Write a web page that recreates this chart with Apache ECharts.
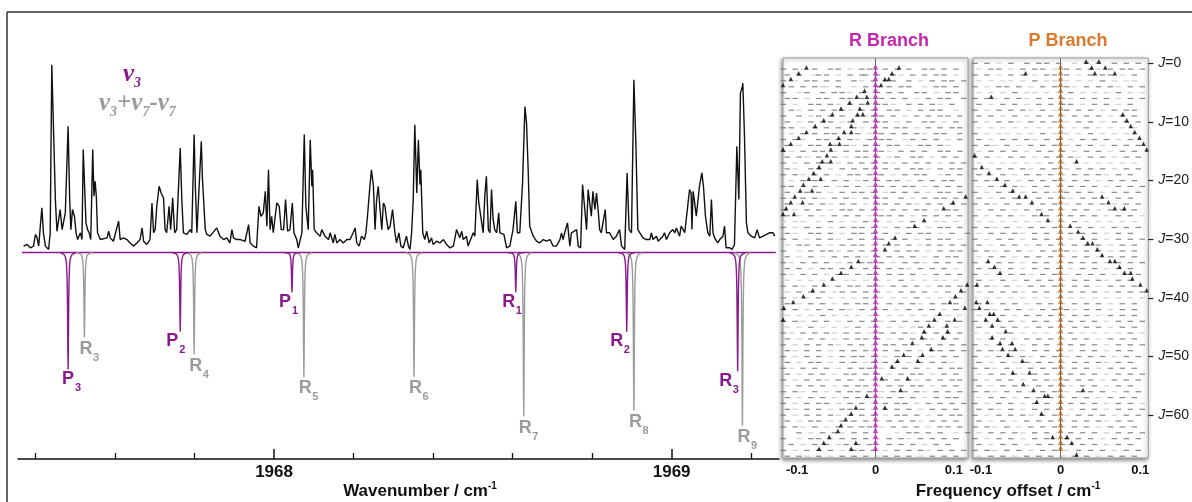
<!DOCTYPE html>
<html>
<head>
<meta charset="utf-8">
<title>ν3 band and Loomis–Wood diagrams</title>
<script src="https://cdn.jsdelivr.net/npm/echarts@6/dist/echarts.min.js"></script>
<style>
html, body { margin: 0; padding: 0; background: #fff; }
#chart { width: 1192px; height: 502px; }
</style>
</head>
<body>
<div id="chart"></div>
<script>
// ---------------- Data ----------------
// Observed spectrum: [wavenumber / cm-1, absorbance in % of the strongest line]
const observedSpectrum = [
[1967.370,3.4],[1967.379,4.3],[1967.387,2.5],[1967.395,3.4],[1967.400,9.6],[1967.404,7.8],[1967.408,3.4],[1967.412,2.5],[1967.416,23.8],[1967.420,10.5],[1967.425,3.4],[1967.433,1.6],[1967.437,10.5],[1967.441,100],[1967.446,99.1],[1967.450,28.2],[1967.454,11.3],[1967.458,12.2],[1967.462,22.9],[1967.467,12.2],[1967.471,12.2],[1967.475,21.1],[1967.482,67.2],[1967.486,28.2],[1967.489,12.2],[1967.493,22.9],[1967.498,19.3],[1967.502,10.5],[1967.506,6.9],[1967.513,10.5],[1967.517,6.9],[1967.520,54.8],[1967.524,53.9],[1967.527,15.8],[1967.531,12.2],[1967.535,10.5],[1967.539,6.9],[1967.544,54.8],[1967.547,30.0],[1967.550,37.9],[1967.553,30.0],[1967.556,10.5],[1967.563,6.9],[1967.580,7.8],[1967.584,11.3],[1967.588,7.8],[1967.596,6.0],[1967.609,16.7],[1967.613,6.9],[1967.621,7.8],[1967.630,6.9],[1967.638,5.1],[1967.647,3.4],[1967.655,5.1],[1967.663,6.9],[1967.668,13.1],[1967.672,6.0],[1967.680,4.3],[1967.688,6.9],[1967.693,26.4],[1967.697,10.5],[1967.701,12.2],[1967.705,24.6],[1967.711,35.3],[1967.716,31.7],[1967.722,29.1],[1967.726,12.2],[1967.730,10.5],[1967.736,24.6],[1967.740,12.2],[1967.745,29.1],[1967.750,10.5],[1967.755,12.2],[1967.764,55.7],[1967.768,28.2],[1967.772,10.5],[1967.781,9.6],[1967.789,12.2],[1967.793,10.5],[1967.799,62.8],[1967.802,35.3],[1967.806,10.5],[1967.811,9.6],[1967.817,59.2],[1967.820,38.8],[1967.822,38.8],[1967.827,12.2],[1967.831,9.6],[1967.839,8.7],[1967.856,13.1],[1967.864,8.7],[1967.873,6.9],[1967.881,7.8],[1967.889,5.1],[1967.894,12.2],[1967.898,7.8],[1967.906,6.9],[1967.915,6.9],[1967.927,6.0],[1967.936,14.9],[1967.940,5.1],[1967.948,3.4],[1967.956,2.5],[1967.962,24.6],[1967.967,19.3],[1967.973,21.1],[1967.978,32.6],[1967.982,14.0],[1967.986,44.1],[1967.990,12.2],[1967.994,19.3],[1967.998,10.5],
[1968.007,26.4],[1968.013,24.6],[1968.018,12.2],[1968.024,12.2],[1968.029,28.2],[1968.034,11.3],[1968.040,12.2],[1968.046,26.4],[1968.050,10.5],[1968.057,6.9],[1968.061,2.5],[1968.070,10.5],[1968.076,62.8],[1968.080,24.6],[1968.086,12.2],[1968.091,60.1],[1968.095,35.3],[1968.097,44.1],[1968.101,12.2],[1968.107,10.5],[1968.116,8.7],[1968.120,12.2],[1968.128,8.7],[1968.137,6.9],[1968.141,10.5],[1968.149,5.1],[1968.153,9.6],[1968.158,5.1],[1968.166,6.9],[1968.174,5.1],[1968.183,6.9],[1968.191,6.9],[1968.199,10.5],[1968.204,13.1],[1968.208,5.1],[1968.214,3.4],[1968.220,8.7],[1968.227,6.9],[1968.231,10.5],[1968.235,19.3],[1968.241,35.3],[1968.245,44.1],[1968.250,35.3],[1968.254,12.2],[1968.258,28.2],[1968.262,35.3],[1968.266,24.6],[1968.271,12.2],[1968.275,26.4],[1968.279,24.6],[1968.283,17.6],[1968.287,12.2],[1968.292,14.0],[1968.298,22.9],[1968.304,10.5],[1968.308,5.1],[1968.314,10.5],[1968.319,3.4],[1968.325,2.5],[1968.333,8.7],[1968.338,3.4],[1968.342,1.6],[1968.346,10.5],[1968.350,28.2],[1968.354,68.1],[1968.359,31.7],[1968.363,60.1],[1968.367,36.2],[1968.369,44.1],[1968.374,10.5],[1968.379,6.9],[1968.384,11.3],[1968.390,5.1],[1968.396,7.8],[1968.400,4.3],[1968.409,6.0],[1968.417,5.1],[1968.426,6.9],[1968.430,7.8],[1968.434,4.3],[1968.442,2.5],[1968.451,3.4],[1968.459,12.2],[1968.463,13.1],[1968.467,7.8],[1968.472,11.3],[1968.476,6.9],[1968.484,8.7],[1968.488,3.4],[1968.493,2.5],[1968.501,10.5],[1968.505,8.7],[1968.511,38.8],[1968.515,26.4],[1968.520,27.3],[1968.526,10.5],[1968.530,30.0],[1968.534,40.6],[1968.539,12.2],[1968.543,10.5],[1968.547,33.5],[1968.551,17.6],[1968.555,12.2],[1968.560,10.5],[1968.565,21.1],[1968.568,10.5],[1968.572,10.5],[1968.578,9.6],[1968.585,2.5],[1968.593,3.4],[1968.601,12.2],[1968.608,27.3],[1968.612,10.5],[1968.618,10.5],[1968.625,37.1],[1968.631,77.8],[1968.635,69.0],[1968.639,45.0],[1968.643,14.0],[1968.647,14.9],[1968.652,8.7],[1968.660,6.0],[1968.668,5.1],[1968.677,6.9],[1968.685,6.0],[1968.694,6.9],[1968.702,3.4],[1968.710,3.4],[1968.719,6.9],[1968.723,10.5],[1968.727,6.9],[1968.731,10.5],[1968.738,15.8],[1968.744,3.4],[1968.748,10.5],[1968.752,10.5],[1968.761,12.2],[1968.765,3.4],[1968.771,2.5],[1968.776,36.2],[1968.780,36.2],[1968.786,12.2],[1968.790,33.5],[1968.794,33.5],[1968.798,19.3],[1968.802,32.6],[1968.807,22.9],[1968.811,31.7],[1968.815,22.9],[1968.819,12.2],[1968.823,10.5],[1968.828,10.5],[1968.833,22.9],[1968.836,10.5],[1968.844,10.5],[1968.853,6.9],[1968.861,8.7],[1968.869,12.2],[1968.874,3.4],[1968.882,1.6],[1968.888,42.4],[1968.893,12.2],[1968.899,10.5],[1968.905,92.0],[1968.910,58.3],[1968.915,12.2],[1968.920,10.5],[1968.928,7.8],[1968.936,6.9],[1968.945,6.9],[1968.949,10.5],[1968.953,6.9],[1968.962,8.7],[1968.966,6.0],[1968.970,6.9],[1968.978,8.7],[1968.982,10.5],[1968.987,6.9],[1968.995,10.5],
[1969.003,12.2],[1969.008,10.5],[1969.012,13.1],[1969.020,8.7],[1969.024,14.0],[1969.029,12.2],[1969.033,10.5],[1969.037,11.3],[1969.045,33.5],[1969.049,31.7],[1969.051,12.2],[1969.054,32.6],[1969.058,26.4],[1969.062,19.3],[1969.066,19.3],[1969.070,35.3],[1969.076,42.4],[1969.080,35.3],[1969.085,19.3],[1969.091,10.5],[1969.096,8.7],[1969.100,28.2],[1969.104,10.5],[1969.108,7.8],[1969.116,5.1],[1969.121,6.9],[1969.129,8.7],[1969.133,14.0],[1969.137,2.5],[1969.146,2.5],[1969.152,1.6],[1969.158,4.3],[1969.164,56.6],[1969.169,28.2],[1969.173,84.9],[1969.178,88.5],[1969.179,90.2],[1969.183,63.7],[1969.188,15.8],[1969.192,10.5],[1969.200,8.7],[1969.209,7.8],[1969.215,12.2],[1969.221,7.8],[1969.230,8.7],[1969.246,10.5],[1969.255,10.5],[1969.259,8.7]
];

// Simulated stick spectra (plotted downwards): positions / cm-1, intensities, labels
const v3Positions  = [1967.482, 1967.764, 1968.045, 1968.608, 1968.887, 1969.166];
const v3Intensity  = [62, 42, 21, 21, 42, 63];
const v3Labels     = ['P3', 'P2', 'P1', 'R1', 'R2', 'R3'];
const hotPositions = [1967.523, 1967.799, 1968.075, 1968.352, 1968.628, 1968.905, 1969.178];
const hotIntensity = [45, 54, 66, 66, 87, 84, 92];
const hotLabels    = ['R3', 'R4', 'R5', 'R6', 'R7', 'R8', 'R9'];
const simulatedRange = [1967.366, 1969.262];

// Axis ticks
const wavenumberLabels = [1968, 1969];
const wavenumberMinorTicks = [1967.4, 1967.6, 1967.8, 1968.2, 1968.4, 1968.6, 1968.8, 1969.2];
const offsetLabels = [-0.1, 0, 0.1];
const jTicks = [0, 10, 20, 30, 40, 50, 60];

// Loomis–Wood rows, one string per J (J = 0, 1, 2 ...), one character per 0.005 cm-1 bin.
// '-' = line found in that bin, ':' = weak line, ' ' = nothing.
const rBranchBinStart = -0.12, rBranchBinWidth = 0.005;
const rBranchRows = [
"",
"-  - :  -   - -  :  - -   -  -  -   - -  -  -  ",
" -  -   :- -  :  -  --  -   - :  -  -  - -  :  ",
"-  :  - -  -  -   - :  -  - -   -  :  -  - -  -",
"  -  -  - ::  -   :  -  -  -  - -   :  - -  -  ",
"-   : -   -  - - :  -   -  -  -   - -  :  - -  ",
" - -  :  - -   - -  - :  -  -  -  :  -  - -   -",
"-  :   - -  - :  -  -   - - :   -  -  - :  -   ",
"  - :  -  -  - - :  -  -   - -  :  -  - -   :  ",
"-   -  : -  -  -   - : - -  -  :  -  -  - -  - ",
" -  :  -  - -  : -   -  - -  :  -   - -  :  -  ",
"- -  :  -  -  -   - :  -  -  - -  :  -  -  - - ",
"  :  -  -  - -  :  -  :  -  -  -  - :  - -   - ",
"-  - :   - -  -  - :  -  - -   : -  -  -  :  - ",
" -  :  - -   -  - :  -  -  - -  :  - -  - :    ",
"- :  -  - -  :  -  - -   - :  -  -  -   - -  - ",
" -  - :  -   -  :  - -  -  : -   - -  :  -  -  ",
"-  :  -  - -  :  -  -  -  - :  -  -  -  :  -  -",
" - :   - -  :  -  -  - :  -  -   - - :  -  - - ",
"-  - :  -  -  :  - -  -  -  :  -  - -   : -  - ",
"  :  -  - :  -  -  : -  -  - -  :  -  -  - -   ",
"- -  :  -  -  : -  -  :  -  -  - -  :  -  -  - ",
" -  : -  -  :  -  - -  -  : -  -  -  :  - -  - ",
"- :  -  - :  -  - :  -  - -   -  :  -  - -  -  ",
" -  :  -  - :  -  -  :  - -  -  - :  -  -  -  -",
"-  :  -  -  :  - -  -  - :  -  -  - -  :  - -  ",
" -  :  -  :  -  -  -  :  - -  -  :  -  -  -  - ",
":  : :   :  -  :  :  -  :  :  :  -  :  : :  :  ",
"-  :  -  -  :  -  - -  -  :  -  - -  :  - -  - ",
" - :   - -  -  :  - -  -  -  :  -  - -  :  -   -",
"-  -  :  -  - :  -  -  : -  -  -  :  -  - -  : ",
" :  - -  -  :  -  - -  :  -  -  -  : -  -  -  -",
"-   :  -  - - :  -  -  -  :  -  - -  :  -  - - ",
" -  :  -  :  -  -  - :  -  -  -  -  :  -  - -  ",
"- :  -  -  -  :  -  - -  -  :  -  - :  -  -  - ",
" -  -  :  - -  -  :  -  -  -  - :  -  -  -  :  ",
"- :  -  -  :  - -  -  - :  -  -  -  :  -  -  - ",
" :  :  :  :  :  : :  :  :  :  -  :  :  : :  :  ",
"-  - :  -  :  -  - -  -  :  -  -  -  :  - -  - ",
" :  -  -  -  : -  -  -  -  :  -  -  -  :  -   -",
"-  :  :  -  :  :  :  - : :  :  :  -  :  :  : : ",
" -  :  -  -  :  -  - -  :  -  -  - :  -  -  -  ",
"-  -  :  -  -  - :  -  -  -  :  -  -  -  :  -  ",
" :  :  :  -  :  :  :  : :  :  :  :  :  :  :  : ",
"-  - :  -  -  :  -  -  - :  -  -  -  - :  -  - ",
" :  :  -  :  :  :  -  : :  :  :  : -  :  :  :  ",
"- :  -  -  - :  -  -  :  -  -  - :  -  -  -  - ",
" -  :  -  -  :  -  - -  -  :  -  -  - :  -  -  ",
"-  :  -  -  - :  -  -  :  - -  -  :  -  -  -  -",
" - :  -  -  :  -  -  - :  -  -  -  :  - -  -  -",
"-  :  -  -  :  -  - -  -  :  -  -  -  :  -  -  ",
" -  :  - -  :  -  -  : -  -  -  :  -  -  - :  ",
"- :  -  -  -  :  -  - -  :  -  -  -  :  -  - - ",
" -  :  -  -  :  - -  -  -  :  -  - -  :  -  -  ",
"-  :  -  - :  -  -  -  :  -  -  - :  -  -  - - ",
" :  -  -  -  :  -  - -  :  -  -  - -  :  -  -  ",
"-  - :  -  :  -  - -  -  :  -  -  - :  -  -  - ",
" -  :  -  -  :  -  -  -  : -  -  -  :  -  - -  ",
"-  :  -  - -  :  -  -  :  -  - -  :  -  -  -  -",
" - :  -  -  :  - -  -  :  -  -  -  :  -  -  -  ",
"-  :  -  -  - :  -  -  -  :  - -  -  :  -  - - ",
" -  :  - -  :  -  -  -  :  -  -  - :  -  -  -  ",
"-  - :  -  :  -  -  - -  :  -  -  -  :  - -  - ",
"    -  :  -  - :  -  -       :  - -  -  -   :  -",
"-   :  - -  :  -  -  -  :  -  - :  -  -  -  -  ",
"  -  :  -  -  : -  -  - :  -  -  -  :  -  -    ",
"-  :  -  -  -  :  - -  -  :  -  -  - :  -  -  -",
" -  - :  -  :  -  -  -  : -  -  -  :  -  -  -  "
];
const pBranchBinStart = -0.11, pBranchBinWidth = 0.005;
const pBranchRows = [
"-  -  :  -   -  - -  -   :  -  -   -  -  - ",
" :  - -  :  -  - -  :  -  -  - :  -  - -  -",
"-  -  :  -  -  :  - -  -  :  -  - -  :  -  ",
" :  :  : :  :  -  : :  :  :  :  -  :  : :  ",
"-  :  - -  -  :  -  -  - :  -  -  - :  -  -",
" :  :  :  -  : :  :  :  -  :  :  :  -  :  :",
"-  - :  -  - :  -  -  - :  -  -  -  :  -  -",
" -  :  -  -  :  -  -  - -  :  -  -  :  -   ",
"-  :  -  -  - :  -  :  -  -  -  :  -  - -  ",
" -  -  :  -  :  -  -  :  -  -  -  :  -  -  ",
"-  :  -  - :  -  -  -  :  -  -  :  -  -  - ",
" :  :  :  :  :  :  :  :  :  -  :  :  :  :  ",
"-  :  : :  :  :  -  :  :  :  -  :  :  : :  ",
" -  :  -  -  - :  -  -  :  -  -  -  :  -   ",
"-  - :  -  :  -  -  -  :  -  -  :  -  -  - ",
" :  -  -  -  :  -  -  -  :  -  -  :  -  -  ",
"-  -  :  -  -  :  -  -  - :  -  -  :  -  - ",
" :  :  :  :  :  :  -  :  :  :  :  :  :  :  ",
"-  :  -  -  - :  -  -  :  -  -  -  :  -  - ",
" -  :  -  :  -  -  -  :  -  -  - :  -  -   ",
"-  - :  -  :  -  -  - :  -  -  :  -  -  -  ",
" :  -  -  - :  -  -  :  -  -  -  :  -  -  -",
"-  :  -  -  :  -  - :  -  -  -  :  -  -  - ",
" -  :  -  -  :  -  -  - :  -  -  :  -  -   ",
"-  - :  -  -  :  -  -  :  -  -  -  :  -  - ",
" :  -  -  :  -  -  -  :  -  -  :  -  -  -  ",
"-  :  -  -  :  -  -  :  -  -  -  :  -  -  :",
" :  :  :  :  :  :  :  :  -  :  :  :  :  :  ",
"-  - :  -  :  -  -  -  :  -  -  :  -  -  - ",
" :  -  -  - :  -  -  :  -  -  -  :  -  -   ",
"-  :  -  -  :  -  -  -  :  -  -  :  -  -  -",
" -  :  -  -  :  -  -  :  -  -  -  :  -  -  ",
"-  - :  -  -  :  -  -  - :  -  -  :  -  -  ",
" :  -  -  :  -  -  -  :  -  -  :  -  -  -  ",
"-  :  -  -  :  -  -  :  -  -  -  :  -  -  -",
" -  - :  -  :  -  -  -  :  -  -  :  -  -   ",
"-  :  -  -  - :  -  -  :  -  -  -  :  -  - ",
" -  :  -  :  -  -  -  :  -  -  - :  -  -   ",
"-  - :  -  :  -  -  - :  -  -  :  -  -  -  ",
" :  -  -  - :  -  -  :  -  -  -  :  -  -  -",
":  :  :  :  :  :  :  :  :  :  :  :  :  :  :",
" -  :  -  -  :  -  -  :  -  -  -  :  -  -  ",
"-  - :  -  -  :  -  -  - :  -  -  :  -  -  ",
" :  -  -  :  -  -  -  :  -  -  :  -  -  -  ",
"-  :  -  -  :  -  -  :  -  -  -  :  -  -  -",
" -  :  -  -  :  -  -  :  -  -  -  :  -  -  ",
":  :  :  -  :  :  :  :  -  :  :  :  :  -  :",
" :  -  -  :  -  -  -  :  -  -  :  -  -  -  ",
"-  :  -  -  :  -  -  :  -  -  -  :  -  -  -",
" -  - :  -  :  -  -  -  :  -  -  :  -  -   ",
"-  :  -  -  - :  -  -  :  -  -  -  :  -  - ",
" -  :  -  :  -  -  -  :  -  -  - :  -  -   ",
"-  - :  -  :  -  -  - :  -  -  :  -  -  -  ",
" :  -  -  - :  -  -  :  -  -  -  :  -  -  -",
"-  :  -  -  :  -  - :  -  -  -  :  -  -  - ",
" -  :  -  -  :  -  -  - :  -  -  :  -  -   ",
"-  - :  -  -  :  -  -  :  -  -  -  :  -  - ",
" :  -  -  :  -  -  -  :  -  -  :  -  -  -  ",
"-  :  -  -  :  -  -  :  -  -  -  :  -  -  :",
" -  - :  -  :  -  -  -  :  -  -  :  -  -  - ",
"-  :  -  -  - :  -  -  :  -  -  -  :  -  - ",
" -  :  -  :  -  -  -  :  -  -  - :  -  -   ",
"-  - :  -  :  -  -  - :  -  -  :  -  -  -  ",
" :  -  -  - :  -  -  :  -  -  -  :  -  -  -",
"-  :  -  -  :  -  - :  -  -  -  :  -  -  - ",
" -  :  -  -  :  -  -  - :  -  -  :  -  -   ",
"-  - :  -  -  :  -  -  :  -  -  -  :  -  - ",
" :  -  -  :  -  -  -  :  -  -  :  -  -  -  "
];

// Lines picked out as series in the Loomis–Wood plots: [offset / cm-1, J]
const rBranchSeriesLines = [
[0.030,1],[0.021,2],[0.012,3],[0.017,3],[0.007,4],
[-0.088,1],[-0.098,2],[-0.108,3],[-0.118,4],
[-0.014,5],[-0.024,6],[-0.033,7],[-0.044,8],[-0.055,9],[-0.066,10],[-0.077,11],[-0.088,12],[-0.098,13],[-0.108,14],[-0.118,15],
[-0.011,6],[-0.010,7],[-0.020,8],[-0.016,9],[-0.023,9],[-0.029,10],[-0.031,11],[-0.031,12],[-0.040,12],[-0.047,13],[-0.046,14],[-0.058,14],[-0.057,15],[-0.062,16],[-0.057,17],[-0.068,17],[-0.072,18],[-0.079,19],[-0.070,20],[-0.085,20],[-0.092,21],[-0.081,22],[-0.096,22],[-0.103,23],[-0.093,24],[-0.108,24],[-0.114,25],[-0.104,26],[-0.118,26],
[0.115,23],[0.099,24],[0.087,25],[0.062,27],[0.050,28],[0.025,30],[0.017,31],[0.012,32],
[-0.022,34],[-0.031,35],[-0.044,36],[-0.055,37],[-0.066,38],[-0.080,39],[-0.092,40],[-0.105,41],[-0.117,42],[-0.118,44],
[0.117,38],[0.109,39],[0.102,40],[0.095,41],[0.082,43],[0.075,44],[0.068,45],[0.062,46],[0.059,47],[0.047,48],[0.036,50],[0.028,51],[0.021,52],[0.008,54],
[0.114,42],[0.101,44],[0.091,45],[0.092,46],[0.086,47],[0.071,49],[0.060,50],[0.054,51],[0.041,54],[0.032,56],[0.012,59],
[-0.011,57],[-0.025,59],[-0.031,60],[-0.038,61],[-0.044,62],[-0.048,63],[-0.059,64],[-0.066,65],[-0.072,66],[-0.025,65],[-0.031,66]
];
const pBranchSeriesLines = [
[0.032,0],[0.048,0],[0.039,1],[0.056,1],[0.043,2],[0.068,2],[-0.044,2],[-0.087,6],
[0.078,9],[0.083,10],[0.088,11],[0.093,12],[0.099,13],[0.104,14],[0.108,15],
[-0.108,16],[-0.099,18],[-0.090,19],[-0.080,20],[-0.070,21],[-0.060,22],[-0.052,23],[-0.044,23],[-0.036,24],[-0.024,26],[-0.016,27],
[0.020,17],[0.052,23],[0.060,24],[0.068,25],[0.080,25],
[0.012,28],[0.022,29],[0.028,30],[0.034,31],[0.040,31],[0.046,32],[0.052,33],[0.062,34],[0.068,34],[0.074,35],[0.080,36],[0.088,36],[0.090,37],[0.100,38],[0.108,39],
[-0.091,34],[-0.083,35],[-0.076,36],[-0.111,37],[-0.105,38],
[-0.106,41],[-0.092,41],[-0.102,42],[-0.084,43],[-0.089,43],[-0.094,44],[-0.079,44],[-0.086,45],[-0.069,46],[-0.086,47],[-0.076,48],[-0.061,48],[-0.073,49],[-0.057,49],[-0.066,50],[-0.048,51],[-0.039,53],[-0.060,53],[-0.047,55],[-0.034,56],[-0.020,57],[-0.016,57],[-0.030,58],[-0.024,60],[-0.010,64],[0.008,64],[0.014,65],[0.020,67],[0.028,56]
];
// J values at which the assigned line sits at zero offset
const rBranchAssignedJ = [1,2,3,4,5,6,7,8,9,10,11,12,13,14,15,16,17,18,19,20,21,22,23,24,25,26,27,28,29,30,31,32,33,34,35,36,37,38,39,40,41,42,43,44,45,46,47,48,49,50,51,52,53,54,55,56,57,58,59,60,61,62,63,64,65,66];
const pBranchAssignedJ = [1,2,3,4,5,6,7,8,9,10,11,12,13,14,15,16,17,18,19,20,21,22,23,24,25,26,27,28,29,30,31,32,33,34,35,36,37,38,39,40,41,42,43,44,45,46,47,48,49,50,51,52,53,54,55,56,57,58,59,60,61,62,63,64,65,66];

// ---------------- Styling ----------------
const SANS = '"Liberation Sans", Arial, Helvetica, sans-serif';
const SERIF = '"Liberation Serif", "Times New Roman", serif';
const PURPLE = '#8a1a8c';
const GREY = '#9b9b9b';
const R_COLOR = '#c426ae';
const P_COLOR = '#d9792b';
const LABEL_FONT = 'bold 18px ' + SANS;
const LABEL_SUB_FONT = 'bold 11px ' + SANS;
// horizontal nudge of the ν3 labels relative to their line
const v3LabelShift = { P3: 0, P2: -8, P1: -7, R1: -7, R2: -10, R3: -12 };

const measureCtx = document.createElement('canvas').getContext('2d');
function textWidth(str, font) { measureCtx.font = font; return measureCtx.measureText(str).width; }

// Text made of pieces on a shared line, some raised or lowered (sub/superscripts)
function scriptedText(parts, x, y, color, align) {
  const total = parts.reduce((s, p) => s + textWidth(p.t, p.font), 0);
  let cx = align === 'center' ? x - total / 2 : x;
  return parts.map(p => {
    const el = { type: 'text', x: cx, y: y + (p.dy || 0), silent: true,
      style: { text: p.t, font: p.font, fill: color, align: 'left', verticalAlign: 'middle' } };
    cx += textWidth(p.t, p.font);
    return el;
  });
}

function rowsToPoints(rows, start, width) {
  const strong = [], weak = [];
  rows.forEach((row, J) => {
    for (let i = 0; i < row.length; i++) {
      const off = +(start + (i + 0.5) * width).toFixed(5);
      if (row[i] === '-') strong.push([off, J]);
      else if (row[i] === ':') weak.push([off, J]);
    }
  });
  return { strong, weak };
}

// Narrow absorption profile drawn downward from the baseline, with its label under the tip
function stickRenderer(labels, color, isV3) {
  return function (params, api) {
    const w = api.value(0), depth = api.value(1);
    const base = api.coord([w, 0]);
    const tip = api.coord([w, -depth]);
    const drop = tip[1] - base[1];
    const pts = [[base[0] - 8, base[1]]];
    for (let o = -6; o <= 6; o += 0.25) {
      pts.push([base[0] + o, base[1] + drop / (1 + (o / 0.55) * (o / 0.55))]);
    }
    pts.push([base[0] + 8, base[1]]);
    const name = labels[params.dataIndex];
    const cx = tip[0] + (isV3 ? (v3LabelShift[name] || 0) : 1.5);
    const cy = tip[1] + (isV3 ? 10 : 12);
    return {
      type: 'group',
      children: [
        { type: 'polyline', shape: { points: pts },
          style: { stroke: color, lineWidth: 1.4, fill: 'none', lineJoin: 'round' } },
        { type: 'text', x: cx, y: cy,
          style: { text: name[0], font: LABEL_FONT, fill: color, align: 'center', verticalAlign: 'middle' } },
        { type: 'text', x: cx + 7, y: cy + 9,
          style: { text: name.slice(1), font: LABEL_SUB_FONT, fill: color, align: 'left', verticalAlign: 'middle' } }
      ]
    };
  };
}

const rPts = rowsToPoints(rBranchRows, rBranchBinStart, rBranchBinWidth);
const pPts = rowsToPoints(pBranchRows, pBranchBinStart, pBranchBinWidth);

const panelGrid = {
  top: 58, width: 185, height: 400, show: true, backgroundColor: '#fff',
  borderColor: '#9a9a9a', borderWidth: 1,
  shadowColor: 'rgba(0,0,0,0.45)', shadowBlur: 4, shadowOffsetX: -1, shadowOffsetY: 1.5
};
const offsetAxisBase = {
  type: 'value', axisLine: { show: false, onZero: false }, axisTick: { show: false }, splitLine: { show: false },
  axisLabel: { customValues: offsetLabels, formatter: v => String(v), fontSize: 13, fontWeight: 'bold',
    fontFamily: SANS, color: '#111', margin: 6 }
};
const jAxisBase = { type: 'value', inverse: true, min: -0.9, max: 67.3 };

function dashSeries(data, color, xi, yi, withCentre) {
  const s = {
    type: 'scatter', xAxisIndex: xi, yAxisIndex: yi, data, symbol: 'rect', symbolSize: [5.5, 1.2],
    itemStyle: { color }, silent: true, z: 2
  };
  if (withCentre) {
    s.markLine = { silent: true, symbol: 'none', label: { show: false },
      lineStyle: { color: '#6a6a6a', width: 1, type: 'solid' }, data: [{ xAxis: 0 }] };
  }
  return s;
}
function triangleSeries(data, color, xi, yi, size) {
  return { type: 'scatter', xAxisIndex: xi, yAxisIndex: yi, data, symbol: 'triangle',
    symbolSize: size, symbolOffset: [0, -size[1] / 2 + 0.5], itemStyle: { color }, silent: true, z: 4 };
}

const option = {
  animation: false,
  backgroundColor: '#fff',
  grid: [
    { left: 18, top: 46, width: 761, height: 413 },
    Object.assign({ left: 783 }, panelGrid),
    Object.assign({ left: 973 }, panelGrid)
  ],
  xAxis: [
    { gridIndex: 0, type: 'value', min: 1967.356, max: 1969.27, splitLine: { show: false },
      axisLine: { onZero: false, lineStyle: { color: '#111', width: 1.5 } },
      axisTick: { inside: true, length: 10, customValues: wavenumberLabels, lineStyle: { color: '#111', width: 1.5 } },
      axisLabel: { customValues: wavenumberLabels, formatter: v => String(v), fontSize: 17, fontWeight: 'bold',
        fontFamily: SANS, color: '#111', margin: 5 } },
    { gridIndex: 0, type: 'value', min: 1967.356, max: 1969.27, position: 'bottom', splitLine: { show: false },
      axisLine: { show: false, onZero: false }, axisLabel: { show: false },
      axisTick: { inside: true, length: 6, customValues: wavenumberMinorTicks, lineStyle: { color: '#111', width: 1.3 } } },
    Object.assign({ gridIndex: 1, min: -0.118, max: 0.118 }, offsetAxisBase),
    Object.assign({ gridIndex: 2, min: -0.11, max: 0.11 }, offsetAxisBase)
  ],
  yAxis: [
    { gridIndex: 0, type: 'value', min: -110, max: 110, show: false },
    Object.assign({ gridIndex: 1, show: false }, jAxisBase),
    Object.assign({ gridIndex: 2, position: 'right', splitLine: { show: false },
      axisLine: { show: false, onZero: false },
      axisTick: { show: true, length: 5, customValues: jTicks, lineStyle: { color: '#222', width: 1.2 } },
      axisLabel: { customValues: jTicks, formatter: v => '{i|J}=' + v, fontSize: 14, fontFamily: SANS,
        color: '#222', margin: 10, rich: { i: { fontStyle: 'italic', fontSize: 14, fontFamily: SANS, color: '#222' } } }
    }, jAxisBase)
  ],
  graphic: [
    { type: 'line', shape: { x1: 7, y1: 12, x2: 1192, y2: 12 }, style: { stroke: '#333', lineWidth: 1.5 }, silent: true },
    { type: 'line', shape: { x1: 7, y1: 12, x2: 7, y2: 502 }, style: { stroke: '#333', lineWidth: 1.5 }, silent: true },
    { type: 'text', x: 889, y: 41, silent: true,
      style: { text: 'R Branch', font: 'bold 18px ' + SANS, fill: R_COLOR, align: 'center', verticalAlign: 'middle' } },
    { type: 'text', x: 1068, y: 41, silent: true,
      style: { text: 'P Branch', font: 'bold 18px ' + SANS, fill: P_COLOR, align: 'center', verticalAlign: 'middle' } }
  ].concat(
    scriptedText([
      { t: 'Wavenumber / cm', font: 'bold 17px ' + SANS },
      { t: '-1', font: 'bold 10px ' + SANS, dy: -5 }
    ], 420, 491, '#111', 'center'),
    scriptedText([
      { t: 'Frequency offset / cm', font: 'bold 17px ' + SANS },
      { t: '-1', font: 'bold 10px ' + SANS, dy: -5 }
    ], 1008, 491, '#111', 'center'),
    scriptedText([
      { t: 'ν', font: 'italic bold 25px ' + SERIF },
      { t: '3', font: 'italic bold 14px ' + SERIF, dy: 8 }
    ], 123, 75, PURPLE, 'left'),
    scriptedText([
      { t: 'ν', font: 'italic bold 25px ' + SERIF },
      { t: '3', font: 'italic bold 14px ' + SERIF, dy: 8 },
      { t: '+ν', font: 'italic bold 25px ' + SERIF },
      { t: '7', font: 'italic bold 14px ' + SERIF, dy: 8 },
      { t: '-ν', font: 'italic bold 25px ' + SERIF },
      { t: '7', font: 'italic bold 14px ' + SERIF, dy: 8 }
    ], 99, 104, GREY, 'left')
  ),
  series: [
    { type: 'line', xAxisIndex: 0, yAxisIndex: 0, data: [[simulatedRange[0], 0], [simulatedRange[1], 0]],
      symbol: 'none', lineStyle: { color: PURPLE, width: 1.5 }, silent: true, z: 1 },
    { type: 'custom', xAxisIndex: 0, yAxisIndex: 0, renderItem: stickRenderer(hotLabels, GREY, false),
      data: hotPositions.map((w, i) => [w, hotIntensity[i]]), silent: true, z: 2 },
    { type: 'custom', xAxisIndex: 0, yAxisIndex: 0, renderItem: stickRenderer(v3Labels, PURPLE, true),
      data: v3Positions.map((w, i) => [w, v3Intensity[i]]), silent: true, z: 3 },
    { type: 'line', xAxisIndex: 0, yAxisIndex: 0, data: observedSpectrum, symbol: 'none',
      lineStyle: { color: '#111', width: 1.4 }, silent: true, z: 4 },

    dashSeries(rPts.weak, '#c6c6c6', 2, 1, false),
    dashSeries(rPts.strong, '#6a6a6a', 2, 1, true),
    triangleSeries(rBranchSeriesLines, '#000', 2, 1, [4.5, 4.5]),
    triangleSeries(rBranchAssignedJ.map(J => [0, J]), '#e010dc', 2, 1, [5.5, 6]),

    dashSeries(pPts.weak, '#c6c6c6', 3, 2, false),
    dashSeries(pPts.strong, '#6a6a6a', 3, 2, true),
    triangleSeries(pBranchSeriesLines, '#000', 3, 2, [4.5, 4.5]),
    triangleSeries(pBranchAssignedJ.map(J => [0, J]), '#d86e0c', 3, 2, [5.5, 6])
  ]
};

const chart = echarts.init(document.getElementById('chart'), null, { renderer: 'canvas' });
chart.setOption(option);
</script>
</body>
</html>
